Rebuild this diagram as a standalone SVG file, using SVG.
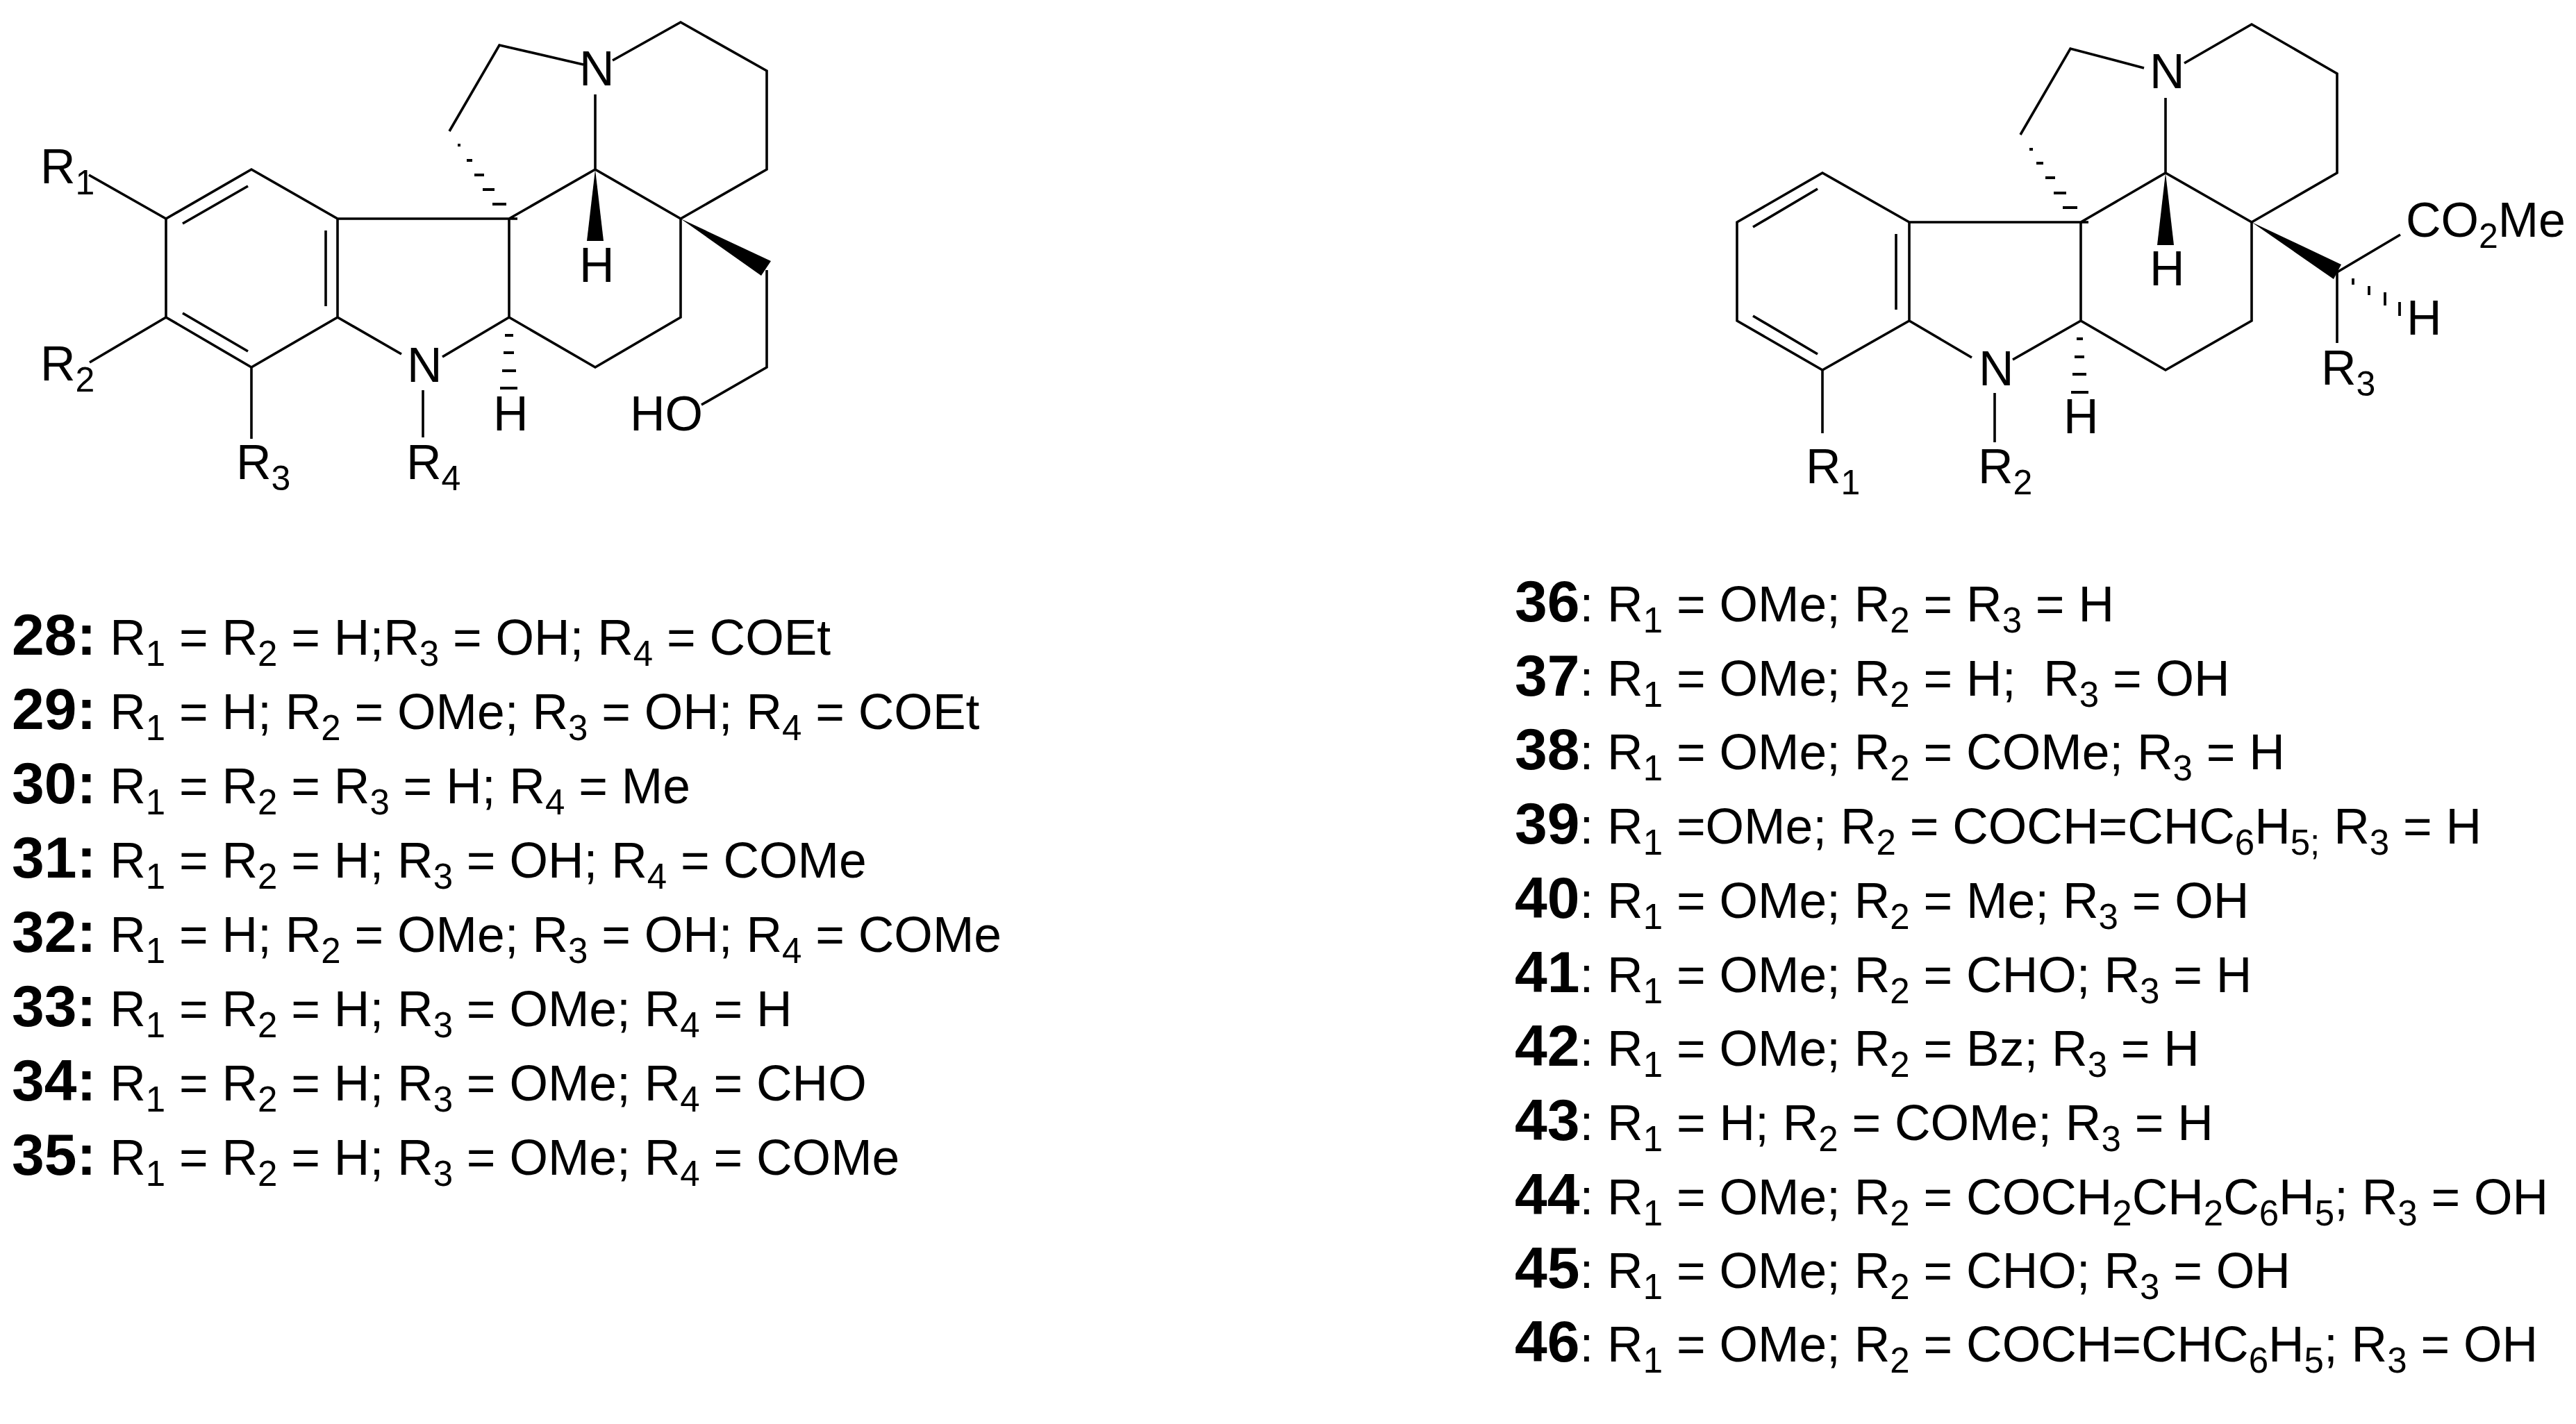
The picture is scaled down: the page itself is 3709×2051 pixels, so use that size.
<svg xmlns="http://www.w3.org/2000/svg" width="3709" height="2051" viewBox="0 0 3709 2051">
<style>
text{font-family:"Liberation Sans",Arial,sans-serif;font-size:70px;fill:#000;white-space:pre}
.t text{font-size:71.4px}
.b{font-weight:bold;font-size:84px}
.s{font-size:50px}
.t .s{font-size:51px}
.l{fill:none;stroke:#000;stroke-width:3.6;stroke-linecap:butt;stroke-linejoin:miter}
.h{fill:none;stroke:#000;stroke-width:3.8}
.w{fill:#000;stroke:none}
</style>
<rect width="3709" height="2051" fill="#fff"/>
<g id="structure-left">
<path class="l" d="M239 315L362 244L486 315V457L362 529L239 457ZM263 322L357 268M469 332V441M263 451L357 506M128 252L239 315M129 522L239 457M362 529V632M486 315H745M733 315V457M486 457L578 510M733 457L637 514M609 562V630M733 315L857 244L980 315V457L857 529L733 457M857 244V136M882 87L980 32L1104 102V244L980 315M840 93L719 65L647 189M1104 389V529L1010 583"/>
<path class="w" d="M857 244L845 347H869Z"/>
<path class="w" d="M980 315L1110 376L1096 397Z"/>
<path class="h" d="M659 209h4M672 231h8M683 252h14M695 273h17M709 294h20M727 483h12M725 508h15M723 534h20M720 559h25"/>
<text x="58" y="264">R<tspan class="s" dy="16">1</tspan></text>
<text x="58" y="548">R<tspan class="s" dy="16">2</tspan></text>
<text x="340" y="690">R<tspan class="s" dy="16">3</tspan></text>
<text x="585" y="690">R<tspan class="s" dy="16">4</tspan></text>
<text x="834" y="123">N</text>
<text x="586" y="550">N</text>
<text x="834" y="406">H</text>
<text x="710" y="620">H</text>
<text x="907" y="620">HO</text>
</g>
<g id="structure-right">
<path class="l" d="M2501 320L2624 249L2749 320V462L2624 533L2501 462ZM2524 327L2617 272M2730 337V446M2524 455L2617 510M2624 533V624M2749 320H3007M2996 320V462M2749 462L2839 515M2996 462L2898 518M2872 566V637M2996 320L3118 249L3242 320V462L3118 533L2996 462M3118 249V141M3145 91L3242 35L3365 106V249L3242 320M3087 98L2981 70L2909 194M3365 392V494M3365 392L3456 338"/>
<path class="w" d="M3118 249L3106 353H3130Z"/>
<path class="w" d="M3242 320L3371 381L3360 402Z"/>
<path class="h" d="M2922 215h5M2932 235h10M2945 256h14M2957 278h18M2970 299h21M2990 488h9M2987 514h14M2984 539h20M2982 565h25M3388 401v9M3411 412v13M3434 421v19M3455 435v20"/>
<text x="2600" y="696">R<tspan class="s" dy="16">1</tspan></text>
<text x="2848" y="696">R<tspan class="s" dy="16">2</tspan></text>
<text x="3342" y="554">R<tspan class="s" dy="16">3</tspan></text>
<text x="3095" y="127">N</text>
<text x="2849" y="555">N</text>
<text x="3095" y="411">H</text>
<text x="2971" y="624">H</text>
<text x="3465" y="482">H</text>
<text x="3464" y="341">CO<tspan class="s" dy="16">2</tspan><tspan dy="-16">Me</tspan></text>
</g>
<g id="labels-left" class="t">
<text x="17" y="943"><tspan class="b">28:</tspan> R<tspan class="s" dy="16">1</tspan><tspan dy="-16"> = R</tspan><tspan class="s" dy="16">2</tspan><tspan dy="-16"> = H;R</tspan><tspan class="s" dy="16">3</tspan><tspan dy="-16"> = OH; R</tspan><tspan class="s" dy="16">4</tspan><tspan dy="-16"> = COEt</tspan></text>
<text x="17" y="1050"><tspan class="b">29:</tspan> R<tspan class="s" dy="16">1</tspan><tspan dy="-16"> = H; R</tspan><tspan class="s" dy="16">2</tspan><tspan dy="-16"> = OMe; R</tspan><tspan class="s" dy="16">3</tspan><tspan dy="-16"> = OH; R</tspan><tspan class="s" dy="16">4</tspan><tspan dy="-16"> = COEt</tspan></text>
<text x="17" y="1157"><tspan class="b">30:</tspan> R<tspan class="s" dy="16">1</tspan><tspan dy="-16"> = R</tspan><tspan class="s" dy="16">2</tspan><tspan dy="-16"> = R</tspan><tspan class="s" dy="16">3</tspan><tspan dy="-16"> = H; R</tspan><tspan class="s" dy="16">4</tspan><tspan dy="-16"> = Me</tspan></text>
<text x="17" y="1264"><tspan class="b">31:</tspan> R<tspan class="s" dy="16">1</tspan><tspan dy="-16"> = R</tspan><tspan class="s" dy="16">2</tspan><tspan dy="-16"> = H; R</tspan><tspan class="s" dy="16">3</tspan><tspan dy="-16"> = OH; R</tspan><tspan class="s" dy="16">4</tspan><tspan dy="-16"> = COMe</tspan></text>
<text x="17" y="1371"><tspan class="b">32:</tspan> R<tspan class="s" dy="16">1</tspan><tspan dy="-16"> = H; R</tspan><tspan class="s" dy="16">2</tspan><tspan dy="-16"> = OMe; R</tspan><tspan class="s" dy="16">3</tspan><tspan dy="-16"> = OH; R</tspan><tspan class="s" dy="16">4</tspan><tspan dy="-16"> = COMe</tspan></text>
<text x="17" y="1478"><tspan class="b">33:</tspan> R<tspan class="s" dy="16">1</tspan><tspan dy="-16"> = R</tspan><tspan class="s" dy="16">2</tspan><tspan dy="-16"> = H; R</tspan><tspan class="s" dy="16">3</tspan><tspan dy="-16"> = OMe; R</tspan><tspan class="s" dy="16">4</tspan><tspan dy="-16"> = H</tspan></text>
<text x="17" y="1585"><tspan class="b">34:</tspan> R<tspan class="s" dy="16">1</tspan><tspan dy="-16"> = R</tspan><tspan class="s" dy="16">2</tspan><tspan dy="-16"> = H; R</tspan><tspan class="s" dy="16">3</tspan><tspan dy="-16"> = OMe; R</tspan><tspan class="s" dy="16">4</tspan><tspan dy="-16"> = CHO</tspan></text>
<text x="17" y="1692"><tspan class="b">35:</tspan> R<tspan class="s" dy="16">1</tspan><tspan dy="-16"> = R</tspan><tspan class="s" dy="16">2</tspan><tspan dy="-16"> = H; R</tspan><tspan class="s" dy="16">3</tspan><tspan dy="-16"> = OMe; R</tspan><tspan class="s" dy="16">4</tspan><tspan dy="-16"> = COMe</tspan></text>
</g>
<g id="labels-right" class="t">
<text x="2181" y="895"><tspan class="b">36</tspan>: R<tspan class="s" dy="16">1</tspan><tspan dy="-16"> = OMe; R</tspan><tspan class="s" dy="16">2</tspan><tspan dy="-16"> = R</tspan><tspan class="s" dy="16">3</tspan><tspan dy="-16"> = H</tspan></text>
<text x="2181" y="1002"><tspan class="b">37</tspan>: R<tspan class="s" dy="16">1</tspan><tspan dy="-16"> = OMe; R</tspan><tspan class="s" dy="16">2</tspan><tspan dy="-16"> = H;  R</tspan><tspan class="s" dy="16">3</tspan><tspan dy="-16"> = OH</tspan></text>
<text x="2181" y="1108"><tspan class="b">38</tspan>: R<tspan class="s" dy="16">1</tspan><tspan dy="-16"> = OMe; R</tspan><tspan class="s" dy="16">2</tspan><tspan dy="-16"> = COMe; R</tspan><tspan class="s" dy="16">3</tspan><tspan dy="-16"> = H</tspan></text>
<text x="2181" y="1215"><tspan class="b">39</tspan>: R<tspan class="s" dy="16">1</tspan><tspan dy="-16"> =OMe; R</tspan><tspan class="s" dy="16">2</tspan><tspan dy="-16"> = COCH=CHC</tspan><tspan class="s" dy="16">6</tspan><tspan dy="-16">H</tspan><tspan class="s" dy="16">5;</tspan><tspan dy="-16"> R</tspan><tspan class="s" dy="16">3</tspan><tspan dy="-16"> = H</tspan></text>
<text x="2181" y="1322"><tspan class="b">40</tspan>: R<tspan class="s" dy="16">1</tspan><tspan dy="-16"> = OMe; R</tspan><tspan class="s" dy="16">2</tspan><tspan dy="-16"> = Me; R</tspan><tspan class="s" dy="16">3</tspan><tspan dy="-16"> = OH</tspan></text>
<text x="2181" y="1429"><tspan class="b">41</tspan>: R<tspan class="s" dy="16">1</tspan><tspan dy="-16"> = OMe; R</tspan><tspan class="s" dy="16">2</tspan><tspan dy="-16"> = CHO; R</tspan><tspan class="s" dy="16">3</tspan><tspan dy="-16"> = H</tspan></text>
<text x="2181" y="1535"><tspan class="b">42</tspan>: R<tspan class="s" dy="16">1</tspan><tspan dy="-16"> = OMe; R</tspan><tspan class="s" dy="16">2</tspan><tspan dy="-16"> = Bz; R</tspan><tspan class="s" dy="16">3</tspan><tspan dy="-16"> = H</tspan></text>
<text x="2181" y="1642"><tspan class="b">43</tspan>: R<tspan class="s" dy="16">1</tspan><tspan dy="-16"> = H; R</tspan><tspan class="s" dy="16">2</tspan><tspan dy="-16"> = COMe; R</tspan><tspan class="s" dy="16">3</tspan><tspan dy="-16"> = H</tspan></text>
<text x="2181" y="1749"><tspan class="b">44</tspan>: R<tspan class="s" dy="16">1</tspan><tspan dy="-16"> = OMe; R</tspan><tspan class="s" dy="16">2</tspan><tspan dy="-16"> = COCH</tspan><tspan class="s" dy="16">2</tspan><tspan dy="-16">CH</tspan><tspan class="s" dy="16">2</tspan><tspan dy="-16">C</tspan><tspan class="s" dy="16">6</tspan><tspan dy="-16">H</tspan><tspan class="s" dy="16">5</tspan><tspan dy="-16">; R</tspan><tspan class="s" dy="16">3</tspan><tspan dy="-16"> = OH</tspan></text>
<text x="2181" y="1855"><tspan class="b">45</tspan>: R<tspan class="s" dy="16">1</tspan><tspan dy="-16"> = OMe; R</tspan><tspan class="s" dy="16">2</tspan><tspan dy="-16"> = CHO; R</tspan><tspan class="s" dy="16">3</tspan><tspan dy="-16"> = OH</tspan></text>
<text x="2181" y="1961"><tspan class="b">46</tspan>: R<tspan class="s" dy="16">1</tspan><tspan dy="-16"> = OMe; R</tspan><tspan class="s" dy="16">2</tspan><tspan dy="-16"> = COCH=CHC</tspan><tspan class="s" dy="16">6</tspan><tspan dy="-16">H</tspan><tspan class="s" dy="16">5</tspan><tspan dy="-16">; R</tspan><tspan class="s" dy="16">3</tspan><tspan dy="-16"> = OH</tspan></text>
</g>
</svg>
